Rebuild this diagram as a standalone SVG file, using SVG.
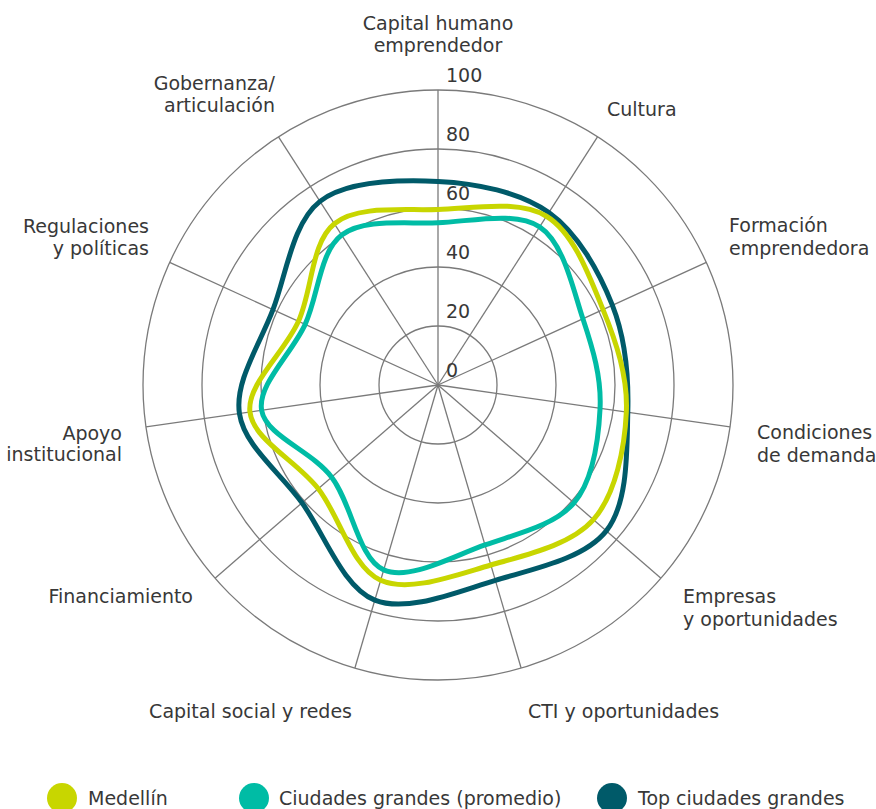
<svg xmlns="http://www.w3.org/2000/svg" width="876" height="809" viewBox="0 0 876 809">
<style>
.bg{fill:#ffffff}
.ring{fill:none;stroke:#7a7a7a;stroke-width:1.3}
.axis{stroke:#7a7a7a;stroke-width:1.3}
text{font-family:"DejaVu Sans","Liberation Sans",sans-serif;font-size:19px;fill:#383838}
.s{fill:none;stroke-width:5;stroke-linejoin:round}
.lime{stroke:#c8d600}
.teal{stroke:#00bca5}
.dark{stroke:#005a69}
</style>
<rect class="bg" x="0" y="0" width="876" height="809"/>
<g id="grid">
<circle class="ring" cx="438" cy="385" r="59"/>
<circle class="ring" cx="438" cy="385" r="118"/>
<circle class="ring" cx="438" cy="385" r="177"/>
<circle class="ring" cx="438" cy="385" r="236"/>
<circle class="ring" cx="438" cy="385" r="295"/>
<g class="axis">
<line x1="438" y1="385" x2="438" y2="90"/>
<line x1="438" y1="385" x2="597.49" y2="136.83"/>
<line x1="438" y1="385" x2="706.34" y2="262.45"/>
<line x1="438" y1="385" x2="730" y2="426.98"/>
<line x1="438" y1="385" x2="660.95" y2="578.18"/>
<line x1="438" y1="385" x2="521.11" y2="668.05"/>
<line x1="438" y1="385" x2="354.89" y2="668.05"/>
<line x1="438" y1="385" x2="215.05" y2="578.18"/>
<line x1="438" y1="385" x2="146" y2="426.98"/>
<line x1="438" y1="385" x2="169.66" y2="262.45"/>
<line x1="438" y1="385" x2="278.51" y2="136.83"/>
</g>
</g>
<g id="scale">
<text x="446" y="377">0</text>
<text x="446" y="318">20</text>
<text x="446" y="259">40</text>
<text x="446" y="200">60</text>
<text x="446" y="141">80</text>
<text x="446" y="82">100</text>
</g>
<g id="series">
<path id="top-ciudades" class="s dark" d="M438,181.45 C476.15,183.31 519.78,191.87 548.85,212.52 C577.92,233.17 599.26,272.04 612.42,305.34 C625.58,338.64 628.82,374.7 627.8,412.29 C626.78,449.88 628.41,502.86 606.33,530.86 C584.25,558.86 533.93,568.77 495.35,580.31 C456.77,591.85 407.07,613.03 374.84,600.12 C342.61,587.21 324.57,533.94 302,502.84 C279.43,471.74 244.28,445.75 239.44,413.55 C234.6,381.35 259.55,345 272.97,309.63 C286.39,274.26 292.47,222.72 319.98,201.36 C347.49,180 399.85,179.59 438,181.45 Z"/>
<path id="ciudades-promedio" class="s teal" d="M438,222.75 C470.99,221.38 515.45,210.9 539.6,226.91 C563.75,242.92 572.82,288.59 582.9,318.82 C592.98,349.05 601.54,377.63 600.06,408.3 C598.58,438.97 593.18,480.07 574,502.84 C554.82,525.61 516.67,533.76 484.96,544.93 C453.25,556.1 409.28,581.14 383.73,569.84 C358.18,558.54 352,503.73 331.65,477.15 C311.3,450.57 266.04,435.83 261.63,410.36 C257.22,384.89 291.83,353.55 305.17,324.34 C318.51,295.13 319.53,252.04 341.67,235.11 C363.81,218.18 405.01,224.12 438,222.75 Z"/>
<path id="medellin" class="s lime" d="M438,209.47 C473.35,208.23 518.94,199.56 546.45,216.25 C573.96,232.94 589.71,276.99 603.03,309.63 C616.35,342.27 627.95,377.08 626.34,412.08 C624.73,447.08 615.98,494.16 593.4,519.65 C570.82,545.14 526.32,554.91 490.86,565.02 C455.4,575.13 409.41,593.02 380.65,580.31 C351.89,567.6 340.06,516.79 318.28,488.74 C296.5,460.69 253.26,439.95 249.96,412.04 C246.66,384.13 284.4,352.66 298.46,321.27 C312.52,289.88 311.07,242.32 334.33,223.69 C357.59,205.06 402.65,210.71 438,209.47 Z"/>
</g>
<g id="labels">
<g id="lbl-capital-humano"><text x="438" y="30" text-anchor="middle">Capital humano</text><text x="438" y="52" text-anchor="middle">emprendedor</text></g>
<g id="lbl-cultura"><text x="607" y="116">Cultura</text></g>
<g id="lbl-formacion"><text x="729" y="232">Formación</text><text x="729" y="255">emprendedora</text></g>
<g id="lbl-condiciones"><text x="757" y="439">Condiciones</text><text x="757" y="462">de demanda</text></g>
<g id="lbl-empresas"><text x="683" y="603">Empresas</text><text x="683" y="626">y oportunidades</text></g>
<g id="lbl-cti"><text x="528" y="718">CTI y oportunidades</text></g>
<g id="lbl-capital-social"><text x="352" y="718" text-anchor="end">Capital social y redes</text></g>
<g id="lbl-financiamiento"><text x="193" y="603" text-anchor="end">Financiamiento</text></g>
<g id="lbl-apoyo"><text x="122" y="440" text-anchor="end">Apoyo</text><text x="122" y="461" text-anchor="end">institucional</text></g>
<g id="lbl-regulaciones"><text x="149" y="233" text-anchor="end">Regulaciones</text><text x="149" y="255" text-anchor="end">y políticas</text></g>
<g id="lbl-gobernanza"><text x="275" y="90" text-anchor="end">Gobernanza/</text><text x="275" y="112" text-anchor="end">articulación</text></g>
</g>
<g id="legend">
<g id="leg-medellin"><circle cx="62" cy="798" r="15" fill="#c8d600"/><text x="88" y="805">Medellín</text></g>
<g id="leg-promedio"><circle cx="254" cy="798" r="15" fill="#00bca5"/><text x="279" y="805">Ciudades grandes (promedio)</text></g>
<g id="leg-top"><circle cx="612" cy="798" r="15" fill="#005a69"/><text x="638" y="805">Top ciudades grandes</text></g>
</g>
</svg>
